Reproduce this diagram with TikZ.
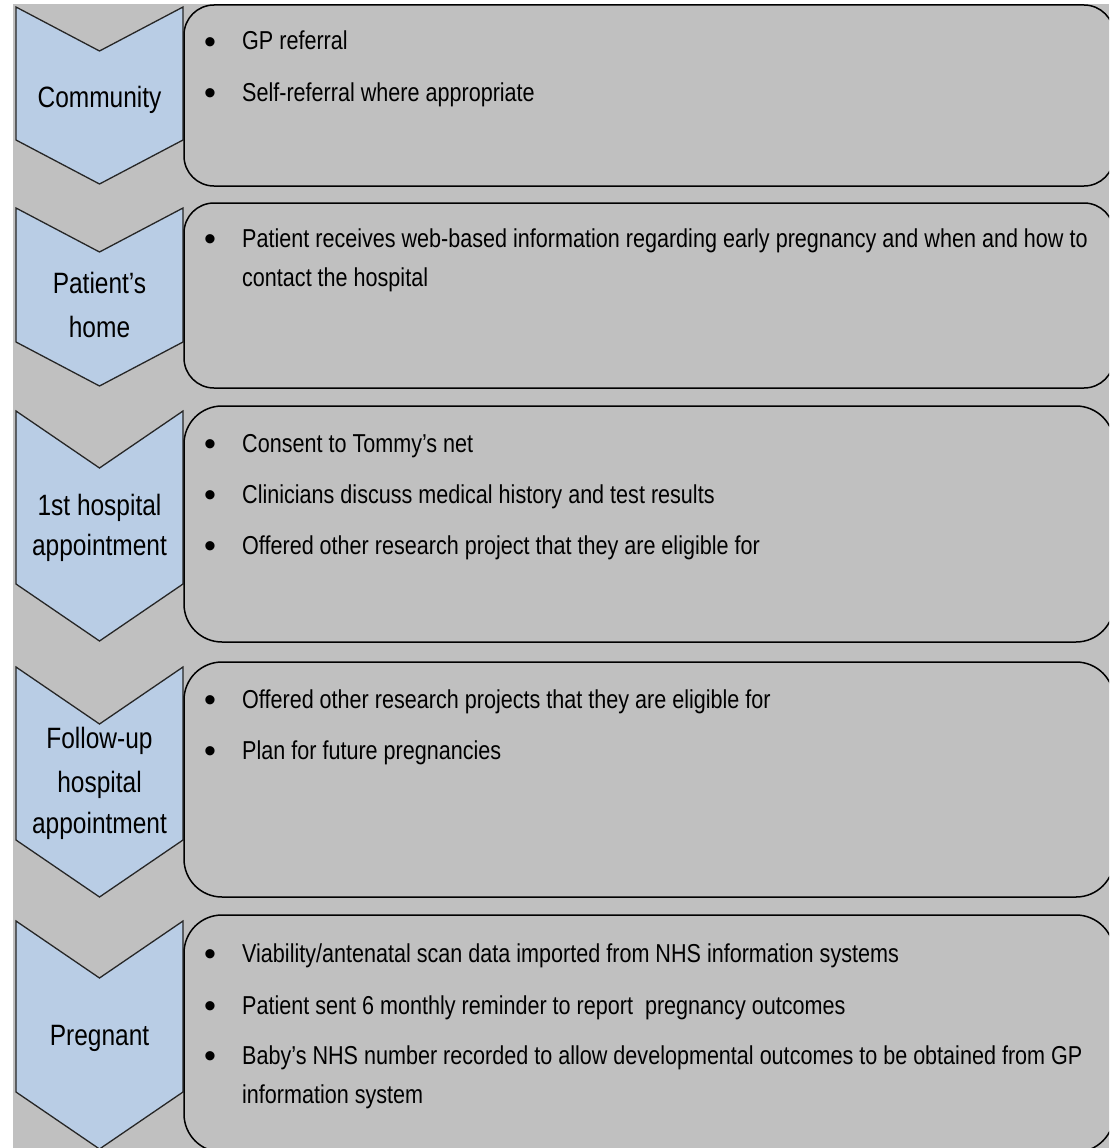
\documentclass[tikz,border=0pt]{standalone}
\usepackage{fontspec}
\setmainfont{Liberation Sans}
\newfontfamily\tallfont[FakeStretch=0.833]{Liberation Sans}
\definecolor{bggray}{RGB}{192,192,192}
\definecolor{chevblue}{RGB}{185,205,229}
\tikzset{
  chev/.style={fill=chevblue, draw=black!85, line width=1.3pt, line join=miter},
  box/.style={fill=bggray, draw=black, line width=1.5pt},
  lab/.style={anchor=base, inner sep=0pt, font=\tallfont\fontsize{29.4}{34}\selectfont},
  bul/.style={anchor=base, inner sep=0pt, font=\fontsize{34}{40}\selectfont},
  itm/.style={anchor=base west, inner sep=0pt, font=\tallfont\fontsize{25.9}{31}\selectfont},
}
\begin{document}
\begin{tikzpicture}[x=1pt,y=-1pt]
\useasboundingbox (0,0) rectangle (1109,1148);
\fill[bggray] (13,4) rectangle (1109,1148);
\begin{scope}
\clip (13,4) rectangle (1109,1148);
% chevrons: top t, height h, notch h/4
\draw[chev] (16,7) -- (99.5,51) -- (183,7) -- (183,140) -- (99.5,184) -- (16,140) -- cycle;
\draw[chev] (16,208) -- (99.5,252) -- (183,208) -- (183,342) -- (99.5,386) -- (16,342) -- cycle;
\draw[chev] (16,411) -- (99.5,468) -- (183,411) -- (183,584) -- (99.5,641) -- (16,584) -- cycle;
\draw[chev] (16,667) -- (99.5,724) -- (183,667) -- (183,840) -- (99.5,897) -- (16,840) -- cycle;
\draw[chev] (16,921) -- (99.5,978) -- (183,921) -- (183,1092) -- (99.5,1149) -- (16,1092) -- cycle;
% boxes
\draw[box, rounded corners=30pt] (184,5) rectangle (1114,186);
\draw[box, rounded corners=30pt] (184,203) rectangle (1114,388);
\draw[box, rounded corners=38pt] (184,406) rectangle (1114,642);
\draw[box, rounded corners=38pt] (184,662) rectangle (1114,897);
\draw[box, rounded corners=38pt] (184,915) rectangle (1114,1152);
\end{scope}
% labels
\node[lab] (c1) at (99.5,107) {Community};
\node[lab] (c2a) at (99.5,293) {Patient’s};
\node[lab] (c2b) at (99.5,337) {home};
\node[lab] (c3a) at (99.5,515) {1st hospital};
\node[lab] (c3b) at (99.5,555) {appointment};
\node[lab] (c4a) at (99.5,748) {Follow-up};
\node[lab] (c4b) at (99.5,792) {hospital};
\node[lab] (c4c) at (99.5,833) {appointment};
\node[lab] (c5) at (99.5,1045) {Pregnant};
% row 1
\node[bul] (b1a) at (210,53) {•};
\node[itm] (t1a) at (242,50) {GP referral};
\node[bul] (b1b) at (210,104) {•};
\node[itm] (t1b) at (242,101) {Self-referral where appropriate};
% row 2
\node[bul] (b2a) at (210,250) {•};
\node[itm] (t2a) at (242,247) {Patient receives web-based information regarding early pregnancy and when and how to};
\node[itm] (t2b) at (242,286) {contact the hospital};
% row 3
\node[bul] (b3a) at (210,455) {•};
\node[itm] (t3a) at (242,452) {Consent to Tommy’s net};
\node[bul] (b3b) at (210,506) {•};
\node[itm] (t3b) at (242,503) {Clinicians discuss medical history and test results};
\node[bul] (b3c) at (210,557) {•};
\node[itm] (t3c) at (242,554) {Offered other research project that they are eligible for};
% row 4
\node[bul] (b4a) at (210,711) {•};
\node[itm] (t4a) at (242,708) {Offered other research projects that they are eligible for};
\node[bul] (b4b) at (210,762) {•};
\node[itm] (t4b) at (242,759) {Plan for future pregnancies};
% row 5
\node[bul] (b5a) at (210,965) {•};
\node[itm] (t5a) at (242,962) {Viability/antenatal scan data imported from NHS information systems};
\node[bul] (b5b) at (210,1017) {•};
\node[itm] (t5b) at (242,1014) {Patient sent 6 monthly reminder to report\ \ pregnancy outcomes};
\node[bul] (b5c) at (210,1067) {•};
\node[itm] (t5c) at (242,1064) {Baby’s NHS number recorded to allow developmental outcomes to be obtained from GP};
\node[itm] (t5d) at (242,1103) {information system};
\end{tikzpicture}
\end{document}
